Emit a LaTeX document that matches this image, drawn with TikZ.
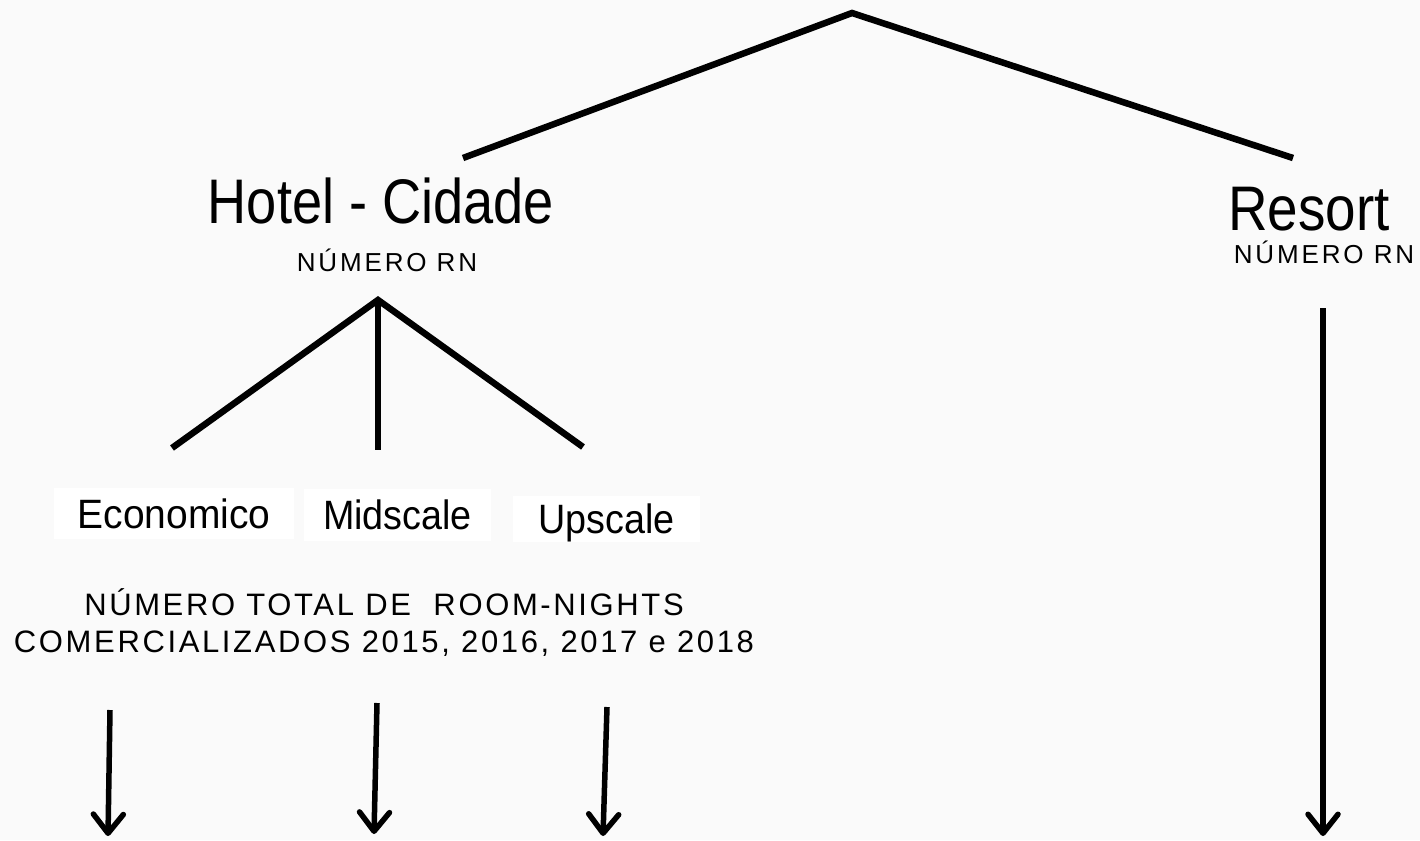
\documentclass[tikz,border=0pt]{standalone}
\usepackage{fontspec}
\setmainfont{Liberation Sans}
\newfontfamily\spacedfont[LetterSpace=11]{Liberation Sans}
\newfontfamily\spacedfontb[LetterSpace=8.5]{Liberation Sans}
\usetikzlibrary{arrows.meta}
\definecolor{bgc}{HTML}{FAFAFA}
\tikzset{
  branch/.style={line width=6.5pt, black},
  downarrow/.style={line width=5.5pt, black, -{Straight Barb[length=19pt,width=30pt,line cap=round,line join=round]}},
  bigtitle/.style={anchor=base, inner sep=0pt, font=\fontsize{63}{70}\selectfont},
  smalllabel/.style={anchor=base, inner sep=0pt, font=\spacedfont\fontsize{26}{30}\selectfont},
  catbox/.style={fill=white, draw=none, inner sep=0pt, text height=29pt, text depth=0pt, font=\fontsize{41}{45}\selectfont},
}
\begin{document}
\begin{tikzpicture}[x=1pt,y=-1pt]
\fill[bgc] (0,0) rectangle (1420,840);
\useasboundingbox (0,0) rectangle (1420,840);

% top branching
\coordinate (apex) at (852,13);
\coordinate (hotelend) at (463,158);
\coordinate (resortend) at (1293,158);
\draw[branch] (hotelend) -- (apex) -- (resortend);

% titles
\node[bigtitle] (hotel) at (381,223) {\scalebox{0.86}[1]{Hotel - Cidade}};
\node[smalllabel] (hotelrn) at (387,271) {NÚMERO RN};
\node[bigtitle] (resort) at (1309,230) {\scalebox{0.87}[1]{Resort}};
\node[smalllabel] (resortrn) at (1324,263) {NÚMERO RN};

% hotel subtree
\coordinate (sub) at (378,300);
\coordinate (ecoend) at (172,448);
\coordinate (midend) at (378,450);
\coordinate (upend) at (583,447);
\draw[branch] (ecoend) -- (sub) -- (upend);
\draw[branch] (sub) -- (midend);

% categories
\node[catbox, minimum width=240pt, minimum height=51pt] (eco) at (174,513.5) {\scalebox{0.95}[1]{Economico}};
\node[catbox, minimum width=187pt, minimum height=52pt] (mid) at (397.5,515) {\scalebox{0.92}[1]{Midscale}};
\node[catbox, minimum width=187pt, minimum height=46pt] (up) at (606.5,519) {\scalebox{0.92}[1]{Upscale}};

% total label
\node[anchor=north, inner sep=0pt, align=center, font=\spacedfontb\fontsize{31}{37}\selectfont] (total) at (384,588)
  {NÚMERO TOTAL DE\ \ ROOM-NIGHTS\\COMERCIALIZADOS 2015, 2016, 2017 e 2018};

% arrows
\coordinate (a1s) at (110,710); \coordinate (a1e) at (108,836);
\coordinate (a2s) at (377,703); \coordinate (a2e) at (374,834);
\coordinate (a3s) at (607,707); \coordinate (a3e) at (603,836);
\coordinate (a4s) at (1323,308); \coordinate (a4e) at (1323,836);
\draw[downarrow] (a1s) -- (a1e);
\draw[downarrow] (a2s) -- (a2e);
\draw[downarrow] (a3s) -- (a3e);
\draw[downarrow] (a4s) -- (a4e);
\end{tikzpicture}
\end{document}
